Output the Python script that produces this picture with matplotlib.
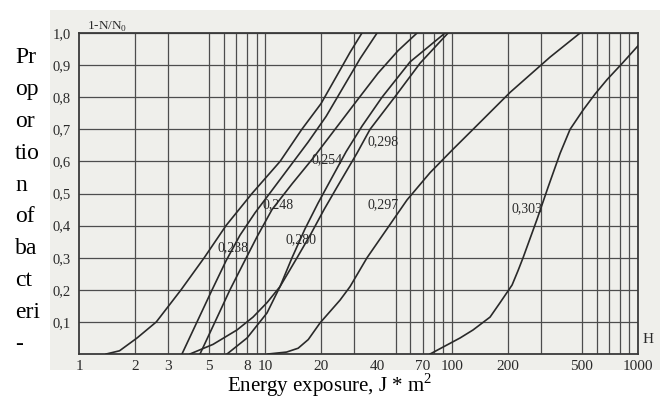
import numpy as np
import matplotlib
matplotlib.use('Agg')
import matplotlib.pyplot as plt
from matplotlib.patches import Rectangle

plt.rcParams['font.family'] = ['Liberation Serif', 'DejaVu Serif']

# survival curves (dose J/m2, 1-N/N0)
curve_a_x = [1.4, 1.65, 2.05, 2.6, 3.53, 4.7, 6.15, 8.48, 12.0, 15.7, 19.9, 25.2, 28.5, 33.0]
curve_a_y = [0.0, 0.01, 0.05, 0.10, 0.20, 0.30, 0.40, 0.50, 0.60, 0.70, 0.78, 0.885, 0.94, 1.0]

curve_b_x = [3.57, 4.30, 5.18, 6.15, 7.31, 8.81, 10.86, 13.57, 16.96, 21.18, 26.13, 32.24, 39.78]
curve_b_y = [0.0, 0.10, 0.20, 0.29, 0.37, 0.44, 0.51, 0.585, 0.66, 0.74, 0.83, 0.92, 1.0]

curve_c_x = [4.46, 5.37, 6.46, 7.59, 9.02, 10.86, 13.91, 18.03, 23.67, 31.06, 40.27, 51.57, 65.2]
curve_c_y = [0.0, 0.10, 0.20, 0.28, 0.365, 0.45, 0.53, 0.61, 0.70, 0.79, 0.875, 0.945, 1.0]

curve_d_x = [6.23, 7.98, 10.21, 11.99, 13.91, 16.33, 19.18, 22.80, 27.12, 33.04, 42.30, 59.79, 92.2]
curve_d_y = [0.0, 0.05, 0.128, 0.21, 0.30, 0.39, 0.47, 0.55, 0.63, 0.71, 0.80, 0.91, 1.0]

curve_s_x = [3.94, 5.24, 7.05, 8.59, 10.21, 11.99, 14.8, 17.59, 20.66, 24.26, 31.06, 36.48, 50.93, 67.68, 95.65]
curve_s_y = [0.0, 0.03, 0.075, 0.115, 0.16, 0.21, 0.30, 0.375, 0.45, 0.52, 0.626, 0.70, 0.81, 0.906, 1.0]

curve_f_x = [10.34, 13.0, 15.0, 17.0, 19.67, 25.18, 28.49, 35.15, 45.0, 57.6, 76.6, 100.5, 130.3, 205.8, 337.5, 489.0]
curve_f_y = [0.0, 0.006, 0.018, 0.045, 0.097, 0.168, 0.21, 0.30, 0.39, 0.48, 0.565, 0.635, 0.70, 0.815, 0.925, 1.0]

curve_g_x = [76.6, 92.2, 111.0, 130.3, 160.7, 181.9, 211.0, 227.2, 241.7, 287.3, 329.3, 381.8, 432.1,
             507.4, 588.4, 682.6, 821.4, 1000.0]
curve_g_y = [0.0, 0.025, 0.05, 0.075, 0.115, 0.16, 0.215, 0.26, 0.30, 0.42, 0.52, 0.625, 0.70,
             0.76, 0.81, 0.855, 0.905, 0.96]

curve_labels = ['0,238', '0,248', '0,254', '0,280', '0,298', '0,297', '0,303']
label_x = [6.71, 11.7, 21.5, 15.5, 42.8, 42.8, 254.0]
label_y = [0.33, 0.464, 0.604, 0.355, 0.66, 0.464, 0.452]

x_ticks = [1, 2, 3, 5, 8, 10, 20, 40, 70, 100, 200, 500, 1000]
y_ticks = [0.1, 0.2, 0.3, 0.4, 0.5, 0.6, 0.7, 0.8, 0.9, 1.0]

paper = '#efefeb'
ink = '#2a2a2a'

fig = plt.figure(figsize=(6.6, 3.98), dpi=100)
# scanned page background
fig.patches.append(Rectangle((50 / 660, 1 - 370 / 398), 610 / 660, 360 / 398,
                             transform=fig.transFigure, facecolor=paper, edgecolor='none', zorder=-5))

ax = fig.add_axes([79 / 660, 1 - 354 / 398, 559 / 660, 321 / 398])
ax.set_facecolor(paper)
ax.set_xscale('log')
ax.set_xlim(1, 1000)
ax.set_ylim(0, 1.0)

# hand drawn log grid
grid_x = [m * 10 ** d for d in range(3) for m in (2, 3, 5, 6, 7, 8, 9)] + [10, 100]
for gx in grid_x:
    ax.axvline(gx, color='#4d4d4d', lw=0.9, zorder=1)
for gy in y_ticks:
    ax.axhline(gy, color='#4d4d4d', lw=0.9, zorder=1)

curves = [(curve_a_x, curve_a_y), (curve_b_x, curve_b_y), (curve_c_x, curve_c_y),
          (curve_d_x, curve_d_y), (curve_s_x, curve_s_y), (curve_f_x, curve_f_y),
          (curve_g_x, curve_g_y)]
for cx, cy in curves:
    ax.plot(cx, cy, color=ink, lw=1.2, zorder=3, solid_joinstyle='round')

for txt, lx, ly in zip(curve_labels, label_x, label_y):
    ax.text(lx, ly, txt, fontsize=10, ha='center', va='center', color=ink, zorder=4)

ax.set_xticks(x_ticks)
ax.set_xticklabels([str(t) for t in x_ticks])
ax.xaxis.set_minor_locator(matplotlib.ticker.NullLocator())
ax.xaxis.set_minor_formatter(matplotlib.ticker.NullFormatter())
ax.set_yticks(y_ticks)
ax.set_yticklabels([('%.1f' % t).replace('.', ',') for t in y_ticks])
ax.tick_params(axis='x', which='major', length=0, labelsize=11, colors=ink, pad=4)
ax.tick_params(axis='y', which='major', length=0, labelsize=10.5, colors=ink, pad=6)
for s in ax.spines.values():
    s.set_color('#3a3a3a')
    s.set_linewidth(1.3)

ax.text(0.015, 1.01, '1-N/N$_\\mathregular{0}$', transform=ax.transAxes, fontsize=9.5,
        ha='left', va='baseline', color=ink)
ax.text(1.008, 0.025, 'H', transform=ax.transAxes, fontsize=11, ha='left', va='bottom', color=ink)

fig.text(0.5, 1 - 385 / 398, 'Energy exposure, J * m$^\\mathregular{2}$', fontsize=15,
         ha='center', va='center', color='black')
fig.text(15 / 660, 1 - 47 / 398, 'Pr\nop\nor\ntio\nn\nof\nba\nct\neri\n-', fontsize=17,
         ha='left', va='top', ma='left', linespacing=1.68, color='black')

fig.savefig('out.png', dpi=100)
